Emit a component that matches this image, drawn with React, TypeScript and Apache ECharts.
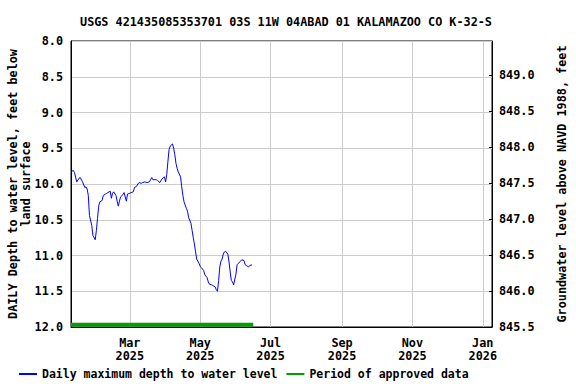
import React, { useEffect, useRef } from "react";
import * as echarts from "echarts";

const chartTitle = "USGS 421435085353701 03S 11W 04ABAD 01 KALAMAZOO CO K-32-S";
const leftAxisName = "DAILY Depth to water level, feet below\nland surface";
const rightAxisName = "Groundwater level above NAVD 1988, feet";
const seriesName = "Daily maximum depth to water level";
const approvedName = "Period of approved data";

const dates = [
  "2025-01-09", "2025-01-11", "2025-01-12", "2025-01-14", "2025-01-16", "2025-01-17", "2025-01-19",
  "2025-01-21", "2025-01-22", "2025-01-23", "2025-01-24", "2025-01-25", "2025-01-27", "2025-01-28",
  "2025-01-30", "2025-01-31", "2025-02-01", "2025-02-02", "2025-02-03", "2025-02-05", "2025-02-06",
  "2025-02-08", "2025-02-09", "2025-02-11", "2025-02-12", "2025-02-13", "2025-02-14", "2025-02-15",
  "2025-02-17", "2025-02-18", "2025-02-19", "2025-02-20", "2025-02-21", "2025-02-23", "2025-02-24",
  "2025-02-26", "2025-02-27", "2025-03-01", "2025-03-02", "2025-03-04", "2025-03-05", "2025-03-07",
  "2025-03-08", "2025-03-09", "2025-03-11", "2025-03-12", "2025-03-14", "2025-03-16", "2025-03-18",
  "2025-03-19", "2025-03-20", "2025-03-21", "2025-03-23", "2025-03-24", "2025-03-25", "2025-03-27",
  "2025-03-28", "2025-03-30", "2025-03-31", "2025-04-01", "2025-04-02", "2025-04-03", "2025-04-04",
  "2025-04-05", "2025-04-07", "2025-04-08", "2025-04-09", "2025-04-10", "2025-04-11", "2025-04-12",
  "2025-04-14", "2025-04-15", "2025-04-16", "2025-04-17", "2025-04-19", "2025-04-20", "2025-04-21",
  "2025-04-23", "2025-04-24", "2025-04-25", "2025-04-26", "2025-04-27", "2025-04-28", "2025-04-30",
  "2025-05-01", "2025-05-02", "2025-05-04", "2025-05-05", "2025-05-07", "2025-05-08", "2025-05-09",
  "2025-05-11", "2025-05-12", "2025-05-14", "2025-05-15", "2025-05-16", "2025-05-17", "2025-05-18",
  "2025-05-19", "2025-05-20", "2025-05-21", "2025-05-22", "2025-05-23", "2025-05-25", "2025-05-26",
  "2025-05-27", "2025-05-28", "2025-05-29", "2025-05-30", "2025-06-01", "2025-06-02", "2025-06-03",
  "2025-06-05", "2025-06-06", "2025-06-08", "2025-06-09", "2025-06-10", "2025-06-12", "2025-06-13",
  "2025-06-15",
];

const depth = [
  9.83, 9.81, 9.84, 9.97, 9.92, 9.91, 9.97,
  10.05, 10.04, 10.07, 10.16, 10.44, 10.58, 10.72,
  10.78, 10.65, 10.48, 10.31, 10.25, 10.23, 10.16,
  10.14, 10.13, 10.11, 10.1, 10.2, 10.13, 10.11,
  10.16, 10.24, 10.31, 10.24, 10.18, 10.15, 10.12,
  10.24, 10.14, 10.13, 10.12, 10.11, 10.05, 10.03,
  10.0, 9.98, 9.99, 9.98, 9.97, 9.98, 9.97,
  9.94, 9.91, 9.94, 9.94, 9.94, 9.95, 9.98,
  9.95, 9.91, 9.9, 9.97, 9.87, 9.69, 9.52,
  9.47, 9.44, 9.5, 9.59, 9.71, 9.78, 9.83,
  9.9, 10.04, 10.16, 10.25, 10.34, 10.38, 10.47,
  10.55, 10.65, 10.75, 10.84, 10.95, 11.05, 11.11,
  11.15, 11.17, 11.21, 11.27, 11.31, 11.37, 11.4,
  11.41, 11.42, 11.44, 11.48, 11.5, 11.35, 11.16,
  11.08, 11.05, 10.98, 10.95, 10.94, 10.98, 11.09,
  11.23, 11.35, 11.37, 11.41, 11.26, 11.13, 11.11,
  11.08, 11.06, 11.07, 11.13, 11.14, 11.16, 11.14,
  11.13,
];

const approvedPeriod = ["2025-01-09", "2025-06-16"];
const approvedLevel = [11.97, 11.97];

const xRange = ["2025-01-09", "2026-01-09"];
const tickDates = ["2025-03-01", "2025-05-01", "2025-07-01", "2025-09-01", "2025-11-01", "2026-01-01"];
const tickLabels = ["Mar\n2025", "May\n2025", "Jul\n2025", "Sep\n2025", "Nov\n2025", "Jan\n2026"];

const leftRange = [8, 12];
const rightRange = [845.5, 849.47];

const ts = (d: string) => new Date(d + "T00:00:00Z").getTime();

const FONT = "'DejaVu Sans Mono', 'Liberation Mono', monospace";
const FS = 11.8;

export default function App() {
  const ref = useRef<HTMLDivElement>(null);

  useEffect(() => {
    if (!ref.current) return;
    const chart = echarts.init(ref.current, null, { renderer: "svg" });
    const tickTs = tickDates.map(ts);
    const textStyle = { fontFamily: FONT, fontWeight: "bold" as const, fontSize: FS, color: "#000" };

    chart.setOption({
      animation: false,
      backgroundColor: "#fff",
      textStyle: { fontFamily: FONT },
      title: {
        text: chartTitle,
        left: 281,
        textAlign: "center",
        top: 11,
        textStyle: { ...textStyle },
      },
      grid: {
        left: 71,
        right: 84,
        top: 41,
        bottom: 57,
        show: true,
        borderColor: "#000",
        borderWidth: 1,
        containLabel: false,
        outerBoundsMode: "none",
      },
      legend: {
        left: 13,
        top: 363,
        itemWidth: 18,
        itemHeight: 10,
        itemGap: 8,
        itemStyle: { opacity: 0 },
        data: [seriesName, approvedName],
        textStyle: { ...textStyle, fontSize: 11.5 },
      },
      xAxis: {
        type: "value",
        min: ts(xRange[0]),
        max: ts(xRange[1]),
        axisLine: { show: true, lineStyle: { color: "#000" } },
        axisTick: { show: false, customValues: tickTs },
        splitLine: { show: true, lineStyle: { color: "#cccccc", width: 1 } },
        axisLabel: {
          customValues: tickTs,
          ...textStyle,
          lineHeight: 13,
          margin: 9,
          formatter: (v: number) => {
            const i = tickTs.indexOf(v);
            return i >= 0 ? tickLabels[i] : "";
          },
        },
      },
      yAxis: [
        {
          type: "value",
          inverse: true,
          min: leftRange[0],
          max: leftRange[1],
          interval: 0.5,
          name: leftAxisName,
          nameLocation: "middle",
          nameGap: 39,
          nameMoveOverlap: false,
          nameTextStyle: { ...textStyle, lineHeight: 13 },
          axisLine: { show: true, lineStyle: { color: "#000" } },
          axisTick: { show: false },
          splitLine: { show: true, lineStyle: { color: "#cccccc", width: 1 } },
          axisLabel: { ...textStyle, margin: 8, formatter: (v: number) => v.toFixed(1) },
        },
        {
          type: "value",
          position: "right",
          min: rightRange[0],
          max: rightRange[1],
          interval: 0.5,
          name: rightAxisName,
          nameLocation: "middle",
          nameGap: 64,
          nameRotate: 90,
          nameMoveOverlap: false,
          nameTextStyle: { ...textStyle },
          axisLine: { show: true, lineStyle: { color: "#000" } },
          axisTick: { show: true, inside: true, length: 3, lineStyle: { color: "#000" } },
          splitLine: { show: false },
          axisLabel: {
            ...textStyle,
            margin: 7,
            showMaxLabel: false,
            formatter: (v: number) => v.toFixed(1),
          },
        },
      ],
      series: [
        {
          name: seriesName,
          type: "line",
          yAxisIndex: 0,
          symbol: "none",
          data: dates.map((d, i) => [ts(d), depth[i]]),
          lineStyle: { color: "#0000ff", width: 1 },
          itemStyle: { color: "#0000ff" },
          z: 3,
        },
        {
          name: approvedName,
          type: "line",
          yAxisIndex: 0,
          symbol: "none",
          data: approvedPeriod.map((d, i) => [ts(d), approvedLevel[i]]),
          lineStyle: { color: "#00a000", width: 4, cap: "butt" },
          itemStyle: { color: "#00a000" },
          z: 2,
        },
      ],
    });

    return () => chart.dispose();
  }, []);

  return <div ref={ref} style={{ width: 576, height: 384, position: "absolute", left: 0, top: 0 }} />;
}
